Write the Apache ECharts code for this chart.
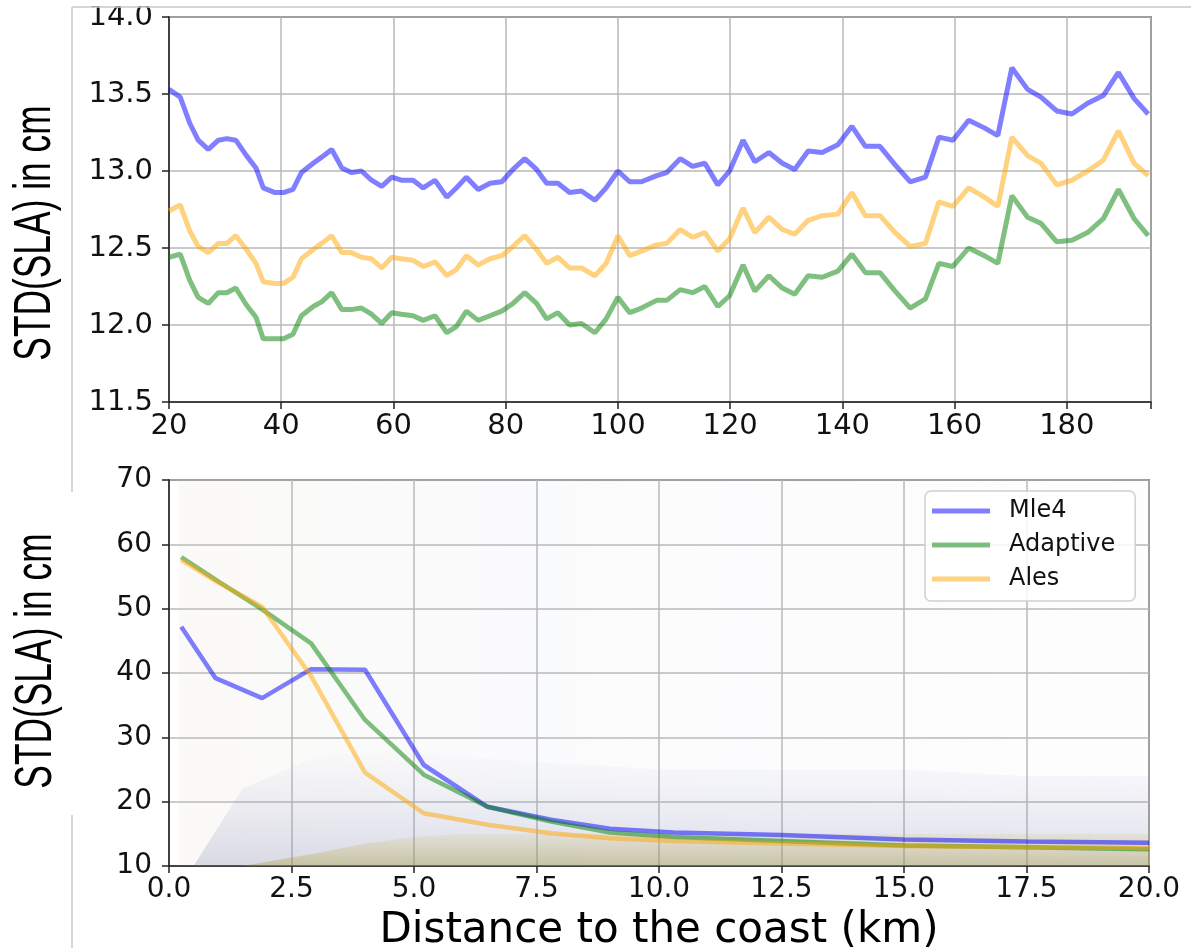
<!DOCTYPE html>
<html>
<head>
<meta charset="utf-8">
<script src="https://cdn.jsdelivr.net/npm/echarts@6/dist/echarts.min.js"></script>
<style>
  html, body { margin: 0; padding: 0; background: #fff; }
  #chart { width: 1191px; height: 948px; }
</style>
</head>
<body>
<div id="chart"></div>
<script>
// upper panel: STD(SLA) against distance (km), 20 to 195
const topX = [20, 22, 23.7, 25.2, 27, 28.8, 30.3, 31.9, 33.8, 35.5,
  36.8, 38.9, 40.4, 42.1, 43.6, 45.7, 47.2, 49, 50.8, 52.5,
  54.3, 56.1, 57.9, 59.7, 61.4, 63.5, 65.3, 67.4, 69.5, 71.2,
  73, 75.1, 77.2, 79.3, 81.3, 83.4, 85.5, 87.3, 89.3, 91.4,
  93.5, 95.9, 97.9, 100, 102.1, 104.2, 106.9, 108.7, 111.1, 113.3,
  115.5, 117.8, 119.9, 122.3, 124.4, 126.9, 129.3, 131.5, 133.9, 136.4,
  139.2, 141.7, 144.1, 146.7, 149.4, 152.1, 154.8, 157.2, 159.7, 162.5,
  165.3, 167.7, 170.2, 173, 175.4, 178.2, 180.9, 183.7, 186.5, 189.2,
  192, 194.5]
const topMle4 = [13.53, 13.48, 13.31, 13.20, 13.14, 13.20, 13.21, 13.20, 13.10, 13.02,
  12.89, 12.86, 12.86, 12.88, 12.99, 13.05, 13.09, 13.14, 13.02, 12.99,
  13.00, 12.94, 12.90, 12.96, 12.94, 12.94, 12.89, 12.94, 12.83, 12.89,
  12.96, 12.88, 12.92, 12.93, 13.01, 13.08, 13.01, 12.92, 12.92, 12.86,
  12.87, 12.81, 12.89, 13.00, 12.93, 12.93, 12.97, 12.99, 13.08, 13.03,
  13.05, 12.91, 13.00, 13.20, 13.06, 13.12, 13.05, 13.01, 13.13, 13.12,
  13.17, 13.29, 13.16, 13.16, 13.04, 12.93, 12.96, 13.22, 13.20, 13.33,
  13.28, 13.23, 13.67, 13.53, 13.48, 13.39, 13.37, 13.44, 13.49, 13.64,
  13.47, 13.37]
const topAles = [12.74, 12.78, 12.61, 12.51, 12.47, 12.53, 12.53, 12.58, 12.49, 12.40,
  12.28, 12.27, 12.27, 12.31, 12.43, 12.49, 12.53, 12.58, 12.47, 12.47,
  12.44, 12.43, 12.37, 12.44, 12.43, 12.42, 12.38, 12.41, 12.32, 12.36,
  12.45, 12.39, 12.43, 12.45, 12.51, 12.58, 12.49, 12.40, 12.44, 12.37,
  12.37, 12.32, 12.40, 12.58, 12.45, 12.48, 12.52, 12.53, 12.62, 12.57,
  12.60, 12.48, 12.56, 12.76, 12.60, 12.70, 12.62, 12.59, 12.68, 12.71,
  12.72, 12.86, 12.71, 12.71, 12.60, 12.51, 12.53, 12.80, 12.77, 12.89,
  12.83, 12.77, 13.22, 13.10, 13.05, 12.91, 12.94, 13.00, 13.07, 13.26,
  13.05, 12.97]
const topAdaptive = [12.44, 12.46, 12.29, 12.18, 12.14, 12.21, 12.21, 12.24, 12.13, 12.05,
  11.91, 11.91, 11.91, 11.94, 12.06, 12.12, 12.15, 12.21, 12.10, 12.10,
  12.11, 12.07, 12.01, 12.08, 12.07, 12.06, 12.03, 12.06, 11.95, 11.99,
  12.09, 12.03, 12.06, 12.09, 12.14, 12.21, 12.14, 12.04, 12.08, 12.00,
  12.01, 11.95, 12.04, 12.18, 12.08, 12.11, 12.16, 12.16, 12.23, 12.21,
  12.25, 12.12, 12.19, 12.39, 12.22, 12.32, 12.24, 12.20, 12.32, 12.31,
  12.35, 12.46, 12.34, 12.34, 12.22, 12.11, 12.17, 12.40, 12.38, 12.50,
  12.45, 12.40, 12.84, 12.70, 12.66, 12.54, 12.55, 12.60, 12.69, 12.88,
  12.69, 12.58]

// lower panel: 0 to 20 km from the coast
const coastX = [0.25, 0.95, 1.9, 2.9, 4.0, 5.2, 6.5, 7.8, 9.0, 10.3, 12.5, 15, 17.5, 20]
const coastMle4 = [47.2, 39.2, 36.1, 40.6, 40.5, 25.7, 19.2, 17.2, 15.8, 15.2, 14.8, 14.1, 13.8, 13.6]
const coastAdaptive = [58.0, 54.5, 49.9, 44.6, 32.7, 24.2, 19.2, 16.9, 15.2, 14.5, 13.9, 13.2, 12.9, 12.6]
const coastAles = [57.6, 54.3, 50.3, 39.5, 24.5, 18.2, 16.4, 15.1, 14.3, 13.9, 13.5, 13.1, 12.9, 12.8]

// rough upper edges of the scattered sample cloud behind the lower curves
const cloudFaintX = [0.2, 3, 6, 10, 20]
const cloudFaintTop = [70, 70, 70, 70, 70]
const cloudMidX = [0.5, 1.5, 3, 4, 5, 6, 8, 10, 12.5, 15, 17.5, 20]
const cloudMidTop = [10, 22, 27, 28, 28, 27, 26, 25, 25, 25, 24, 24]
const cloudLowX = [1.5, 3, 4, 5, 6, 8, 10, 12.5, 15, 17.5, 20]
const cloudLowTop = [10, 12, 13.5, 14.5, 15, 15, 15, 15, 15, 15, 15]

const topTicksX = [20, 40, 60, 80, 100, 120, 140, 160, 180]

const seriesNames = ['Mle4', 'Adaptive', 'Ales']
const colors = {
  Mle4: 'rgba(0,0,255,0.5)',
  Adaptive: 'rgba(0,128,0,0.5)',
  Ales: 'rgba(255,165,0,0.5)'
}

const pairs = (xs, ys) => xs.map((x, i) => [x, ys[i]])

const font = 'DejaVu Sans'
const axisLine = { show: true, lineStyle: { color: '#222', width: 1.5 } }
const axisTick = { show: true, length: 7, lineStyle: { color: '#222', width: 1.5 } }
const splitLine = { show: true, lineStyle: { color: '#b8b8b8', width: 1.5 } }

const lineSeries = (name, data, axis, width) => ({
  name,
  type: 'line',
  xAxisIndex: axis,
  yAxisIndex: axis,
  data,
  color: colors[name],
  showSymbol: false,
  symbol: 'none',
  lineStyle: { color: colors[name], width },
  z: 3,
  silent: true
})

const cloudSeries = (xs, tops, fill) => ({
  type: 'line',
  xAxisIndex: 1,
  yAxisIndex: 1,
  data: pairs(xs, tops),
  symbol: 'none',
  lineStyle: { width: 0 },
  areaStyle: { origin: 'start', color: fill },
  z: 1,
  silent: true
})

// the axis titles use a narrow face, squeezed along the text
const yTitle = (x, y) => ({
  type: 'text', x, y, rotation: Math.PI / 2, scaleX: 0.68,
  style: { text: 'STD(SLA) in cm', font: '52px "Liberation Sans", Arial, sans-serif', fill: '#000', align: 'center', verticalAlign: 'middle' }
})

const chart = echarts.init(document.getElementById('chart'))

const option = {
  animation: false,
  backgroundColor: '#fff',
  grid: [
    { left: 169, top: 17, width: 982, height: 385, show: true, borderColor: '#222', borderWidth: 1.5, containLabel: false, outerBoundsMode: 'none' },
    { left: 169, top: 480, width: 980, height: 386, show: true, borderColor: '#222', borderWidth: 1.5, containLabel: false, outerBoundsMode: 'none' }
  ],
  xAxis: [
    {
      type: 'value', gridIndex: 0, min: 20, max: 195, interval: 20,
      axisLine, axisTick, splitLine,
      axisLabel: {
        fontFamily: font, fontSize: 29, color: '#111', margin: 10,
        formatter: v => (topTicksX.includes(v) ? String(v) : '')
      }
    },
    {
      type: 'value', gridIndex: 1, min: 0, max: 20, interval: 2.5,
      axisLine, axisTick, splitLine,
      axisLabel: { fontFamily: font, fontSize: 28, color: '#111', margin: 10, formatter: v => v.toFixed(1) },
      name: 'Distance to the coast (km)',
      nameLocation: 'middle',
      nameGap: 44,
      nameTextStyle: { fontFamily: font, fontSize: 42, color: '#000' }
    }
  ],
  yAxis: [
    {
      type: 'value', gridIndex: 0, min: 11.5, max: 14, interval: 0.5,
      axisLine, axisTick, splitLine,
      axisLabel: { fontFamily: font, fontSize: 29, color: '#111', margin: 16, formatter: v => v.toFixed(1) }
    },
    {
      type: 'value', gridIndex: 1, min: 10, max: 70, interval: 10,
      axisLine, axisTick, splitLine,
      axisLabel: { fontFamily: font, fontSize: 28, color: '#111', margin: 17 }
    }
  ],
  legend: {
    data: seriesNames,
    orient: 'vertical',
    left: 925,
    top: 491,
    icon: 'rect',
    itemWidth: 58,
    itemHeight: 5,
    itemGap: 8,
    padding: [7, 20, 9, 7],
    backgroundColor: 'rgba(255,255,255,0.85)',
    borderColor: '#d0d0d0',
    borderWidth: 1.5,
    borderRadius: 6,
    selectedMode: false,
    textStyle: { fontFamily: font, fontSize: 24, color: '#111', lineHeight: 26, padding: [0, 0, 0, 14] }
  },
  graphic: [
    { type: 'rect', shape: { x: 72, y: 0, width: 1119, height: 6 }, style: { fill: '#fff' }, z: 9 },
    { type: 'line', shape: { x1: 72, y1: 7, x2: 1191, y2: 7 }, style: { stroke: '#c8c8c8', lineWidth: 1.5 }, z: 10 },
    { type: 'line', shape: { x1: 72, y1: 7, x2: 72, y2: 492 }, style: { stroke: '#c8c8c8', lineWidth: 1.5 } },
    { type: 'line', shape: { x1: 72, y1: 815, x2: 72, y2: 948 }, style: { stroke: '#c8c8c8', lineWidth: 1.5 } },
    yTitle(36, 233),
    yTitle(37, 661)
  ],
  series: [
    lineSeries('Mle4', pairs(topX, topMle4), 0, 5),
    lineSeries('Adaptive', pairs(topX, topAdaptive), 0, 5),
    lineSeries('Ales', pairs(topX, topAles), 0, 5),

    cloudSeries(cloudFaintX, cloudFaintTop, new echarts.graphic.LinearGradient(0, 0, 1, 0, [
      { offset: 0, color: 'rgba(200,195,170,0.13)' },
      { offset: 0.35, color: 'rgba(185,190,215,0.09)' },
      { offset: 1, color: 'rgba(200,200,215,0.04)' }
    ])),
    cloudSeries(cloudMidX, cloudMidTop, new echarts.graphic.LinearGradient(0, 0, 0, 1, [
      { offset: 0, color: 'rgba(150,155,200,0.02)' },
      { offset: 1, color: 'rgba(110,115,165,0.34)' }
    ])),
    cloudSeries(cloudLowX, cloudLowTop, new echarts.graphic.LinearGradient(0, 0, 0, 1, [
      { offset: 0, color: 'rgba(200,175,50,0.15)' },
      { offset: 1, color: 'rgba(165,150,40,0.5)' }
    ])),

    lineSeries('Mle4', pairs(coastX, coastMle4), 1, 4.5),
    lineSeries('Adaptive', pairs(coastX, coastAdaptive), 1, 4.5),
    lineSeries('Ales', pairs(coastX, coastAles), 1, 4.5)
  ]
}

chart.setOption(option)
</script>
</body>
</html>
